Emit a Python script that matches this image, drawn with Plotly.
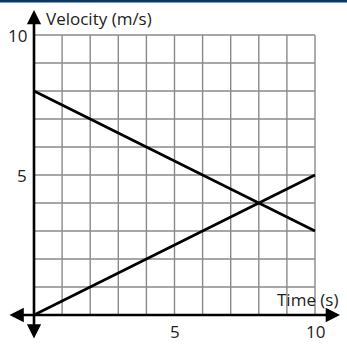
import plotly.graph_objects as go

# Velocity vs. time for two objects
time_s = [0, 10]
velocity_a = [8, 3]
velocity_b = [0, 5]

x_ticks = [5, 10]
y_ticks = [5, 10]
grid_steps = list(range(0, 11))

W, H = 347, 346
x0_px, x10_px = 34, 315
y0_px, y10_px = 315, 35
sx = (x10_px - x0_px) / 10.0
sy = (y0_px - y10_px) / 10.0
x_range = [-x0_px / sx, (W - x0_px) / sx]
y_range = [-(H - y0_px) / sy, 10 + y10_px / sy]

fig = go.Figure()

shapes = []
# grid
for g in grid_steps:
    shapes.append(dict(type="line", x0=g, x1=g, y0=0, y1=10, xref="x", yref="y",
                       line=dict(color="#8a8a8a", width=1.4), layer="below"))
    shapes.append(dict(type="line", x0=0, x1=10, y0=g, y1=g, xref="x", yref="y",
                       line=dict(color="#8a8a8a", width=1.4), layer="below"))
# top header bar
shapes.append(dict(type="rect", xref="paper", yref="paper", x0=0, x1=1,
                   y0=1 - 2.5 / H, y1=1, fillcolor="#0b3a66", line=dict(width=0)))

fig.add_trace(go.Scatter(x=time_s, y=velocity_a, mode="lines",
                         line=dict(color="black", width=2.6), hoverinfo="skip"))
fig.add_trace(go.Scatter(x=time_s, y=velocity_b, mode="lines",
                         line=dict(color="black", width=2.6), hoverinfo="skip"))

annotations = []
# axes with arrowheads
x_left = (8 - x0_px) / sx
x_right = (340 - x0_px) / sx
y_top = 10 + (y10_px - 10) / sy
y_bot = -(340 - y0_px) / sy
annotations.append(dict(x=x_right, y=0, ax=x_left, ay=0, xref="x", yref="y",
                        axref="x", ayref="y", showarrow=True, arrowhead=2,
                        arrowside="end+start", arrowsize=1.1, arrowwidth=2.6,
                        arrowcolor="black", text=""))
annotations.append(dict(x=0, y=y_top, ax=0, ay=y_bot, xref="x", yref="y",
                        axref="x", ayref="y", showarrow=True, arrowhead=2,
                        arrowside="end+start", arrowsize=1.1, arrowwidth=2.6,
                        arrowcolor="black", text=""))

font = dict(family="Open Sans", size=17, color="#222")
for t in x_ticks:
    annotations.append(dict(x=t, y=0, xref="x", yref="y", text=str(t),
                            showarrow=False, yshift=-16, font=font))
for t in y_ticks:
    annotations.append(dict(x=0, y=t, xref="x", yref="y", text=str(t),
                            showarrow=False, xanchor="right", xshift=-5, font=font))
annotations.append(dict(x=0, y=y_top, xref="x", yref="y", text="Velocity (m/s)",
                        showarrow=False, xanchor="left", yanchor="middle",
                        xshift=10, yshift=-8, font=font))
annotations.append(dict(x=10, y=0, xref="x", yref="y", text="Time (s)",
                        showarrow=False, xanchor="center", yanchor="bottom",
                        xshift=-8, yshift=2, font=font))

fig.update_layout(
    width=W, height=H, margin=dict(l=0, r=0, t=0, b=0),
    paper_bgcolor="white", plot_bgcolor="white", showlegend=False,
    xaxis=dict(range=x_range, visible=False, fixedrange=True),
    yaxis=dict(range=y_range, visible=False, fixedrange=True),
    shapes=shapes, annotations=annotations,
)

fig.write_html("out.html")
